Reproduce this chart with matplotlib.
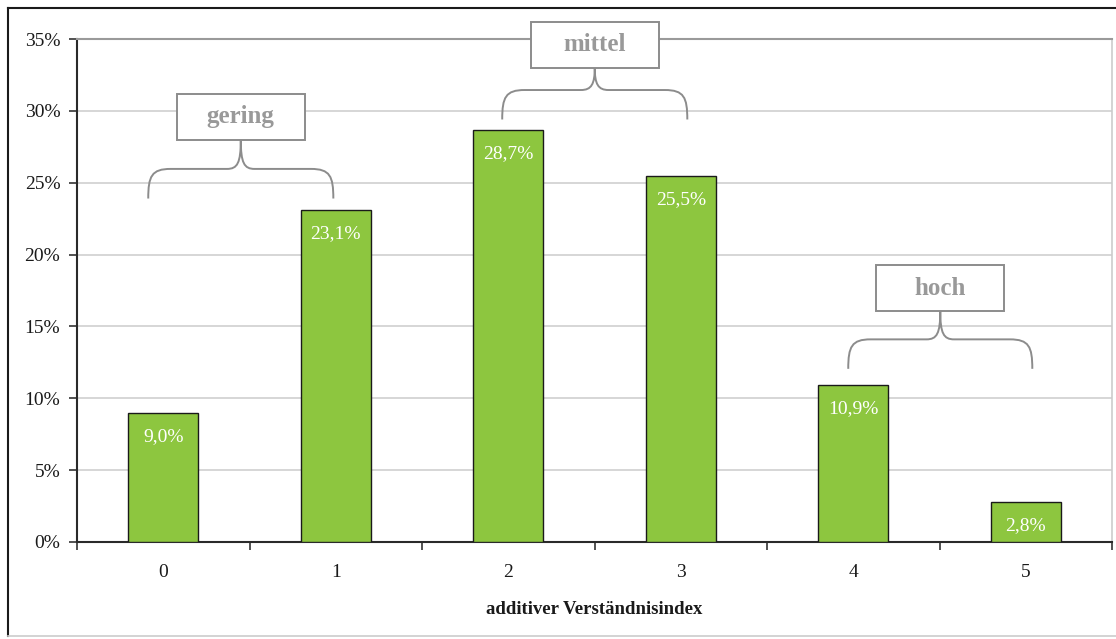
import matplotlib
matplotlib.use("Agg")
import matplotlib.pyplot as plt
from matplotlib.path import Path
from matplotlib.patches import PathPatch, Rectangle
from matplotlib.lines import Line2D

plt.rcParams['font.family'] = ['Liberation Serif', 'DejaVu Serif']

categories = ["0", "1", "2", "3", "4", "5"]
values = [9.0, 23.1, 28.7, 25.5, 10.9, 2.8]
value_labels = ["9,0%", "23,1%", "28,7%", "25,5%", "10,9%", "2,8%"]
y_ticks = [0, 5, 10, 15, 20, 25, 30, 35]
y_tick_labels = ["0%", "5%", "10%", "15%", "20%", "25%", "30%", "35%"]
x_label = "additiver Verständnisindex"

# groups: label, brace left x, brace right x, end level, bar level, cusp level
groups = [
    ("gering", -0.087, 0.986, 23.9, 25.96, 28.0),
    ("mittel", 1.965, 3.038, 29.4, 31.45, 33.0),
    ("hoch", 3.971, 5.038, 12.05, 14.1, 16.07),
]

W, H = 1116, 639
fig = plt.figure(figsize=(W / 100, H / 100), dpi=100)
ax = fig.add_axes([77 / W, 1 - 542 / H, (1112 - 77) / W, (542 - 39) / H])

x = list(range(len(categories)))
bar_color = "#8DC63F"
ax.bar(x, values, width=0.406, color=bar_color, edgecolor="#1a1a1a", linewidth=1.0, zorder=3)

for xi, v, lab in zip(x, values, value_labels):
    ax.annotate(lab, (xi, v), xytext=(0, -17), textcoords="offset points",
                ha="center", va="center", color="white", fontsize=14, zorder=4)

ax.set_xlim(-0.5, 5.5)
ax.set_ylim(0, 35)
ax.set_yticks(y_ticks)
ax.set_yticklabels(y_tick_labels, fontsize=14, color="#1a1a1a")
ax.set_xticks(x)
ax.set_xticklabels(categories, fontsize=14, color="#1a1a1a")
ax.set_xticks([i - 0.5 for i in range(len(categories) + 1)], minor=True)
ax.tick_params(axis="x", which="major", length=0, pad=16)
ax.tick_params(axis="x", which="minor", length=6, width=1.2, color="#333333", direction="out")
ax.tick_params(axis="y", length=6, width=1.2, color="#333333", direction="out", pad=6)

ax.yaxis.grid(True, color="#cfcfcf", linewidth=1.2, zorder=0)
ax.set_axisbelow(True)
for s in ["left", "bottom"]:
    ax.spines[s].set_color("#2a2a2a")
    ax.spines[s].set_linewidth(1.5)
ax.spines["top"].set_color("#9a9a9a")
ax.spines["top"].set_linewidth(1.5)
ax.spines["right"].set_color("#cccccc")
ax.spines["right"].set_linewidth(1.2)

ax.set_xlabel(x_label, fontsize=13.5, fontweight="bold", labelpad=14, color="#1a1a1a")

# curly braces with labelled boxes
gray = "#8c8c8c"
for label, x0, x1, y_end, y_bar, y_cusp in groups:
    xc = (x0 + x1) / 2
    rx = 0.13
    rc = 0.08
    verts = [
        (x0, y_end),
        (x0, y_bar - 0.5), (x0 + 0.02, y_bar), (x0 + rx, y_bar),
        (xc - rc, y_bar),
        (xc - 0.02, y_bar), (xc, y_bar + 0.4), (xc, y_cusp),
        (xc, y_bar + 0.4), (xc + 0.02, y_bar), (xc + rc, y_bar),
        (x1 - rx, y_bar),
        (x1 - 0.02, y_bar), (x1, y_bar - 0.5), (x1, y_end),
    ]
    codes = [Path.MOVETO,
             Path.CURVE4, Path.CURVE4, Path.CURVE4,
             Path.LINETO,
             Path.CURVE4, Path.CURVE4, Path.CURVE4,
             Path.CURVE4, Path.CURVE4, Path.CURVE4,
             Path.LINETO,
             Path.CURVE4, Path.CURVE4, Path.CURVE4]
    ax.add_patch(PathPatch(Path(verts, codes), facecolor="none", edgecolor=gray,
                           linewidth=1.4, zorder=5, clip_on=False))
    bw, bh = 0.74, 3.2
    ax.add_patch(Rectangle((xc - bw / 2, y_cusp), bw, bh, facecolor="white",
                           edgecolor=gray, linewidth=1.4, zorder=6, clip_on=False))
    ax.text(xc, y_cusp + bh / 2, label, ha="center", va="center", fontsize=18,
            fontweight="bold", color="#999999", zorder=7, clip_on=False)

# outer frame
fig.add_artist(Line2D([8 / W, 8 / W], [1 - 8 / H, 1 - 636 / H], color="#1a1a1a", linewidth=1.5))
fig.add_artist(Line2D([8 / W, 1.0], [1 - 8 / H, 1 - 8 / H], color="#1a1a1a", linewidth=1.5))
fig.add_artist(Line2D([8 / W, 1.0], [1 - 636 / H, 1 - 636 / H], color="#cccccc", linewidth=1.2))

fig.savefig("out.png", dpi=100, facecolor="white")
